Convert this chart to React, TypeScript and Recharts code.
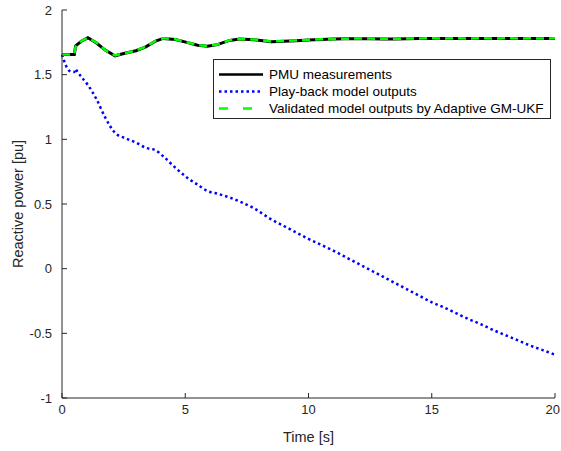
import { Line, LineChart, XAxis, YAxis } from "recharts";

const times = [
  0, 0.3, 0.5, 0.55, 0.6, 0.8, 1.05, 1.4, 1.75, 2.15, 2.55, 3.0, 3.4, 3.8, 4.1, 4.6, 5.1, 5.5, 5.9, 6.3,
  6.8, 7.2, 7.8, 8.5, 9.0, 9.5, 10, 10.5, 11, 11.5, 12, 12.5, 13, 13.5, 14, 14.5, 15, 15.5, 16, 16.5,
  17, 17.5, 18, 18.5, 19, 19.5, 20,
];

const pmu = [
  1.655, 1.655, 1.655, 1.72, 1.73, 1.76, 1.785, 1.745, 1.69, 1.646, 1.665, 1.685, 1.715, 1.76, 1.78,
  1.772, 1.748, 1.728, 1.72, 1.732, 1.765, 1.775, 1.77, 1.755, 1.758, 1.762, 1.768, 1.772, 1.775, 1.778,
  1.778, 1.778, 1.776, 1.776, 1.778, 1.78, 1.78, 1.78, 1.78, 1.78, 1.78, 1.78, 1.78, 1.78, 1.78, 1.78,
  1.78,
];

const playback = [
  1.655, 1.53, 1.52, 1.545, 1.53, 1.48, 1.42, 1.31, 1.17, 1.05, 1.01, 0.975, 0.935, 0.915, 0.87, 0.78,
  0.7, 0.65, 0.6, 0.58, 0.55, 0.52, 0.465, 0.38, 0.33, 0.28, 0.23, 0.185, 0.14, 0.09, 0.04, -0.01, -0.06,
  -0.11, -0.16, -0.21, -0.26, -0.3, -0.345, -0.39, -0.43, -0.475, -0.515, -0.555, -0.595, -0.63, -0.665,
];

const validated = [
  1.655, 1.655, 1.66, 1.715, 1.73, 1.762, 1.785, 1.747, 1.69, 1.648, 1.666, 1.686, 1.716, 1.762, 1.781,
  1.773, 1.749, 1.729, 1.721, 1.733, 1.766, 1.776, 1.771, 1.757, 1.76, 1.764, 1.77, 1.773, 1.776, 1.778,
  1.779, 1.779, 1.777, 1.777, 1.779, 1.78, 1.781, 1.78, 1.781, 1.78, 1.781, 1.78, 1.781, 1.78, 1.781,
  1.78, 1.781,
];

const xTicks = [0, 5, 10, 15, 20];
const yTicks = [-1, -0.5, 0, 0.5, 1, 1.5, 2];

const legendItems = [
  { label: "PMU measurements", color: "#000000", dash: undefined as string | undefined },
  { label: "Play-back model outputs", color: "#0000ff", dash: "2.5 3" },
  { label: "Validated model outputs by Adaptive GM-UKF", color: "#00ff00", dash: "9 15" },
];

const data = times.map((t, i) => ({
  t,
  pmu: pmu[i],
  playback: playback[i],
  validated: validated[i],
}));

const FONT = '"Liberation Sans", Arial, Helvetica, sans-serif';
const INK = "#262626";

function XTick(props: any) {
  const { x, y, payload, index } = props;
  // the last label hugs the right border, as MATLAB draws it
  const last = index === xTicks.length - 1;
  return (
    <text
      x={last ? x + 5 : x}
      y={y}
      dy="0.72em"
      textAnchor={last ? "end" : "middle"}
      fill={INK}
      fontSize={13}
      fontFamily={FONT}
    >
      {payload.value}
    </text>
  );
}

function YLabel(props: any) {
  const vb = props.viewBox;
  const x = vb.x + 23;
  const y = vb.y + vb.height / 2;
  return (
    <text
      x={x}
      y={y}
      transform={`rotate(-90 ${x} ${y})`}
      textAnchor="middle"
      fill={INK}
      fontSize={14.5}
      fontFamily={FONT}
    >
      Reactive power [pu]
    </text>
  );
}

export default function App() {
  return (
    <div
      style={{
        position: "absolute",
        left: 0,
        top: 0,
        width: 561,
        height: 451,
        background: "#fff",
        fontFamily: FONT,
      }}
    >
      <LineChart width={561} height={451} data={data} margin={{ top: 10, right: 6, bottom: 0, left: 0 }}>
        <XAxis
          dataKey="t"
          type="number"
          domain={[0, 20]}
          ticks={xTicks}
          interval={0}
          height={53}
          tickSize={-5}
          tickMargin={12}
          stroke={INK}
          tick={<XTick />}
          label={{ value: "Time [s]", position: "insideBottom", offset: 9, fill: INK, fontSize: 14.5, fontFamily: FONT }}
        />
        <XAxis
          xAxisId="top"
          orientation="top"
          type="number"
          domain={[0, 20]}
          ticks={xTicks}
          interval={0}
          height={0}
          tickSize={-5}
          stroke={INK}
          tickFormatter={() => ""}
        />
        <YAxis
          type="number"
          domain={[-1, 2]}
          ticks={yTicks}
          interval={0}
          width={62}
          tickSize={-5}
          tickMargin={15}
          stroke={INK}
          tick={{ fill: INK, fontSize: 13, fontFamily: FONT }}
          label={{ content: YLabel }}
        />
        <YAxis
          yAxisId="right"
          orientation="right"
          type="number"
          domain={[-1, 2]}
          ticks={yTicks}
          interval={0}
          width={0}
          tickSize={-5}
          stroke={INK}
          tickFormatter={() => ""}
        />
        <Line
          type="monotone"
          dataKey="playback"
          stroke="#0000ff"
          strokeWidth={2.5}
          strokeDasharray="2.5 3"
          dot={false}
          isAnimationActive={false}
        />
        <Line type="linear" dataKey="pmu" stroke="#000000" strokeWidth={3} dot={false} isAnimationActive={false} />
        <Line
          type="linear"
          dataKey="validated"
          stroke="#00ff00"
          strokeWidth={2.5}
          strokeDasharray="8 5"
          dot={false}
          isAnimationActive={false}
        />
      </LineChart>

      <svg
        width={338}
        height={60}
        style={{ position: "absolute", left: 213, top: 59, background: "#fff", border: `1px solid ${INK}`, boxSizing: "border-box" }}
      >
        {legendItems.map((item, i) => {
          const y = 14.5 + i * 17;
          return (
            <g key={item.label}>
              <line x1={5} x2={49} y1={y} y2={y} stroke={item.color} strokeWidth={2.5} strokeDasharray={item.dash} />
              <text x={55} y={y + 4.8} fontSize={13.5} fill="#000" fontFamily={FONT}>
                {item.label}
              </text>
            </g>
          );
        })}
      </svg>
    </div>
  );
}
